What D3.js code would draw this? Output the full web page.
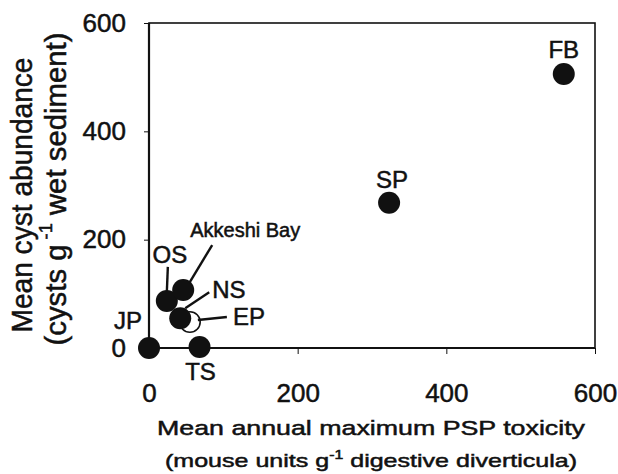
<!DOCTYPE html>
<html>
<head>
<meta charset="utf-8">
<script src="https://cdn.jsdelivr.net/npm/d3@7"></script>
<style>
  body { margin: 0; background: #fff; }
  svg { display: block; font-family: "Liberation Sans", Arial, sans-serif; }
  text { stroke: #111; stroke-width: 0.5px; }
</style>
</head>
<body>
<div id="chart"></div>
<script>
// sites, toxicity (x) and cyst abundance (y)
var sites = ["JP", "TS", "OS", "Akkeshi Bay", "NS", "EP", "SP", "FB"];
var toxicity = [0, 68, 24, 46, 42, 55, 323, 558];
var cysts = [0, 2, 87, 107, 55, 48, 268, 506];
var openSites = ["EP"];
var xTicks = [0, 200, 400, 600];
var yTicks = [0, 200, 400, 600];

var width = 618, height = 474;

var svg = d3.select("#chart").append("svg")
    .attr("width", width)
    .attr("height", height);

var x = d3.scaleLinear().domain([0, 600]).range([149, 595]);
var y = d3.scaleLinear().domain([0, 600]).range([348, 23]);

// axes
var xAxis = svg.append("g")
    .attr("transform", "translate(0," + y(0) + ")")
    .call(d3.axisBottom(x).tickValues(xTicks).tickSize(6).tickPadding(30));
var yAxis = svg.append("g")
    .attr("transform", "translate(" + x(0) + ",0)")
    .call(d3.axisLeft(y).tickValues(yTicks).tickSize(5).tickPadding(18));

[xAxis, yAxis].forEach(function(a) {
    a.select(".domain").remove();
    a.selectAll("line").attr("stroke", "#111").attr("stroke-width", 1);
    a.selectAll("text").attr("font-size", 26).attr("fill", "#111")
        .attr("font-family", "Liberation Sans, Arial, sans-serif");
});

// frame
svg.append("rect")
    .attr("x", x(0)).attr("y", y(600))
    .attr("width", x(600) - x(0)).attr("height", y(0) - y(600))
    .attr("fill", "none").attr("stroke", "#111").attr("stroke-width", 1.6);
svg.append("path")
    .attr("d", "M" + x(0) + "," + y(600) + "V" + y(0) + "H" + x(600))
    .attr("fill", "none").attr("stroke", "#111").attr("stroke-width", 2.2);

var data = sites.map(function(s, i) {
    return { site: s, tox: toxicity[i], cyst: cysts[i], open: openSites.indexOf(s) >= 0 };
});

// label placement (pixel offsets from the marker)
var labelLayout = {
    "JP": { dx: -7, dy: -19, anchor: "end", size: 24 },
    "TS": { dx: 1, dy: 33, anchor: "middle", size: 24 },
    "OS": { dx: 3, dy: -38, anchor: "middle", size: 24 },
    "Akkeshi Bay": { dx: 7, dy: -53, anchor: "start", size: 20 },
    "NS": { dx: 32, dy: -20, anchor: "start", size: 24 },
    "EP": { dx: 43, dy: 3, anchor: "start", size: 24 },
    "SP": { dx: 3, dy: -15, anchor: "middle", size: 24 },
    "FB": { dx: 0, dy: -16, anchor: "middle", size: 24 }
};
var leaders = {
    "OS": [1, -34, 0, -9],
    "Akkeshi Bay": [29, -45, 6, -7],
    "NS": [29, -26, 5, -10],
    "EP": [37, -5, 8, -2]
};

// open markers first, filled ones on top
var ordered = data.filter(function(d) { return d.open; })
    .concat(data.filter(function(d) { return !d.open; }));

svg.append("g").selectAll("circle")
    .data(ordered)
    .enter().append("circle")
    .attr("cx", function(d) { return x(d.tox); })
    .attr("cy", function(d) { return y(d.cyst); })
    .attr("r", function(d) { return d.open ? 10.3 : 11; })
    .attr("fill", function(d) { return d.open ? "#fff" : "#111"; })
    .attr("stroke", "#111")
    .attr("stroke-width", function(d) { return d.open ? 1.6 : 0; });

svg.append("g").selectAll("line")
    .data(data.filter(function(d) { return leaders[d.site]; }))
    .enter().append("line")
    .attr("x1", function(d) { return x(d.tox) + leaders[d.site][0]; })
    .attr("y1", function(d) { return y(d.cyst) + leaders[d.site][1]; })
    .attr("x2", function(d) { return x(d.tox) + leaders[d.site][2]; })
    .attr("y2", function(d) { return y(d.cyst) + leaders[d.site][3]; })
    .attr("stroke", "#111")
    .attr("stroke-width", 2.4);

svg.append("g").selectAll("text")
    .data(data)
    .enter().append("text")
    .attr("x", function(d) { return x(d.tox) + labelLayout[d.site].dx; })
    .attr("y", function(d) { return y(d.cyst) + labelLayout[d.site].dy; })
    .attr("text-anchor", function(d) { return labelLayout[d.site].anchor; })
    .attr("font-size", function(d) { return labelLayout[d.site].size; })
    .attr("fill", "#111")
    .text(function(d) { return d.site; });

// x title
svg.append("text")
    .attr("x", 371).attr("y", 435)
    .attr("text-anchor", "middle")
    .attr("font-size", 21)
    .attr("textLength", 428).attr("lengthAdjust", "spacingAndGlyphs")
    .attr("fill", "#111")
    .text("Mean annual maximum PSP toxicity");

var xt2 = svg.append("text")
    .attr("x", 371).attr("y", 467)
    .attr("text-anchor", "middle")
    .attr("font-size", 19)
    .attr("textLength", 412).attr("lengthAdjust", "spacingAndGlyphs")
    .attr("fill", "#111");
xt2.append("tspan").text("(mouse units g");
xt2.append("tspan").attr("font-size", 12).attr("dy", -8).text("-1");
xt2.append("tspan").attr("dy", 8).text(" digestive diverticula)");

// y title
svg.append("text")
    .attr("transform", "translate(32,195) rotate(-90)")
    .attr("text-anchor", "middle")
    .attr("font-size", 29)
    .attr("textLength", 275).attr("lengthAdjust", "spacingAndGlyphs")
    .attr("fill", "#111")
    .text("Mean cyst abundance");

var yt2 = svg.append("text")
    .attr("transform", "translate(66,189) rotate(-90)")
    .attr("text-anchor", "middle")
    .attr("font-size", 29)
    .attr("textLength", 313).attr("lengthAdjust", "spacingAndGlyphs")
    .attr("fill", "#111");
yt2.append("tspan").text("(cysts g");
yt2.append("tspan").attr("font-size", 18).attr("dy", -14).text(" -1");
yt2.append("tspan").attr("dy", 14).text("  wet sediment)");
</script>
</body>
</html>
